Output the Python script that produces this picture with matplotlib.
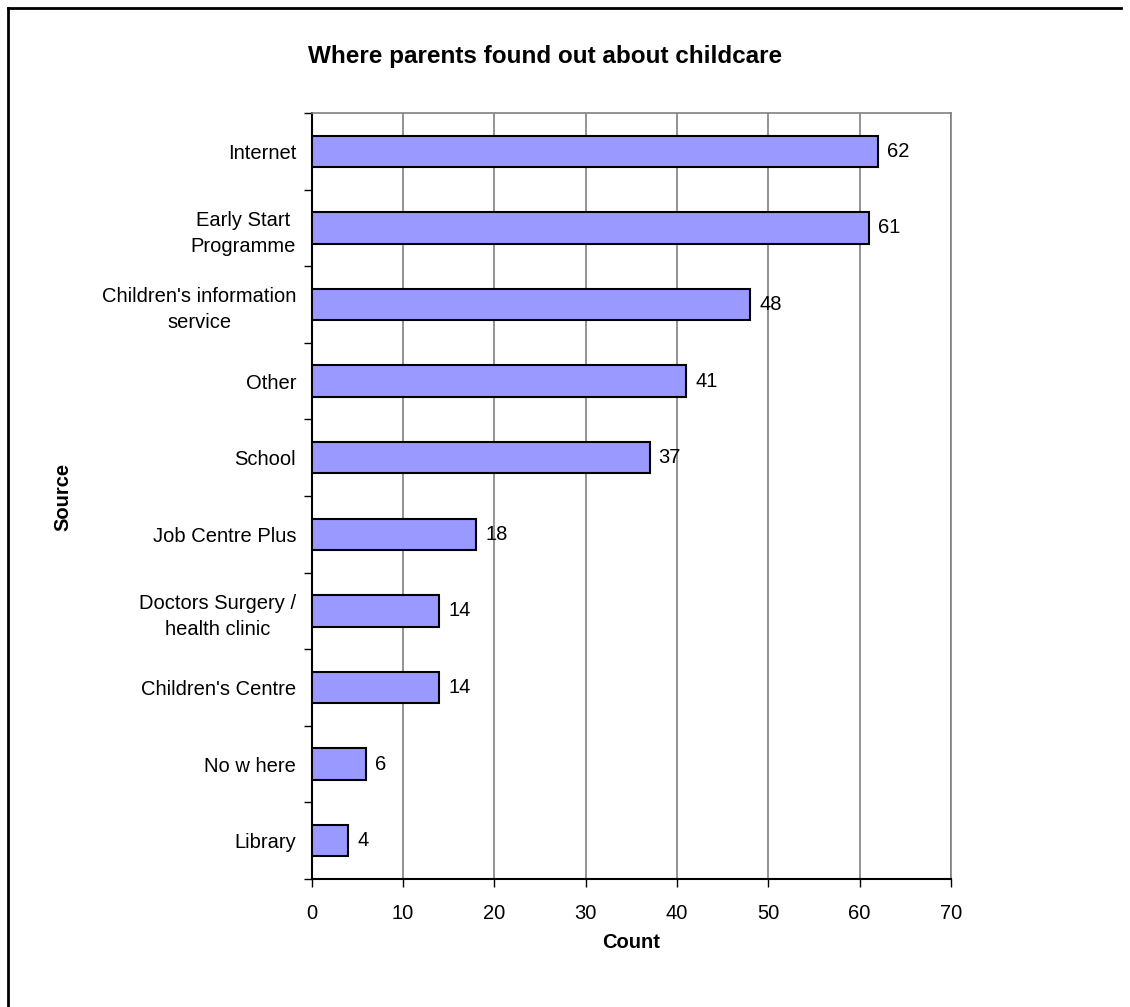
import matplotlib
matplotlib.use("Agg")
import matplotlib.pyplot as plt
from matplotlib.lines import Line2D
import numpy as np

categories = ["Internet", "Early Start\nProgramme", "Children's information\nservice",
              "Other", "School", "Job Centre Plus", "Doctors Surgery /\nhealth clinic",
              "Children's Centre", "No w here", "Library"]
counts = [62, 61, 48, 41, 37, 18, 14, 14, 6, 4]
xticks = [0, 10, 20, 30, 40, 50, 60, 70]

plt.rcParams['font.family'] = ['Liberation Sans', 'DejaVu Sans']

W, H = 1130, 1007
fig = plt.figure(figsize=(W / 100, H / 100), dpi=100)
ax = fig.add_axes([311.5 / W, 1 - 879 / H, (951 - 311.5) / W, (879 - 113) / H])

n = len(categories)
ypos = np.arange(n)
ax.barh(ypos, counts, height=0.41, color='#9999FF', edgecolor='black', linewidth=1.5, zorder=3)
ax.set_ylim(n - 0.5, -0.5)
ax.set_xlim(0, 70)

for y, v in zip(ypos, counts):
    ax.text(v + 1.0, y, str(v), va='center', ha='left', fontsize=14.5, zorder=4)

ax.set_xticks(xticks)
ax.set_xticklabels([str(t) for t in xticks], fontsize=14.5)
ax.tick_params(axis='x', length=6, width=1, color='black', pad=12)
ax.xaxis.grid(True, color='#808080', linewidth=1.2, zorder=0)
ax.set_axisbelow(True)

ax.set_yticks(np.arange(n + 1) - 0.5)
ax.set_yticklabels([])
ax.tick_params(axis='y', which='major', length=6, width=1, color='black')
ax.set_yticks(ypos, minor=True)
ax.set_yticklabels(categories, minor=True, fontsize=14.5, multialignment='center',
                   linespacing=1.45)
ax.tick_params(axis='y', which='minor', length=0, pad=11)

for s in ['top', 'right']:
    ax.spines[s].set_color('#808080')
    ax.spines[s].set_linewidth(1.2)
for s in ['left', 'bottom']:
    ax.spines[s].set_color('black')
    ax.spines[s].set_linewidth(1.5)

fig.text(545 / W, 1 - 57 / H, "Where parents found out about childcare", ha='center', va='center',
         fontsize=17.5, fontweight='bold')
fig.text(631 / W, 1 - 943 / H, "Count", ha='center', va='center', fontsize=14.5, fontweight='bold')
fig.text(63 / W, 1 - 497 / H, "Source", ha='center', va='center', rotation=90, fontsize=14.5,
         fontweight='bold')

# outer frame (top and left edges)
fig.add_artist(Line2D([8 / W, 1121 / W], [1 - 8 / H, 1 - 8 / H], color='black', linewidth=2,
                      transform=fig.transFigure))
fig.add_artist(Line2D([8 / W, 8 / W], [1 - 8 / H, 0], color='black', linewidth=2,
                      transform=fig.transFigure))

fig.savefig("out.png", dpi=100)
